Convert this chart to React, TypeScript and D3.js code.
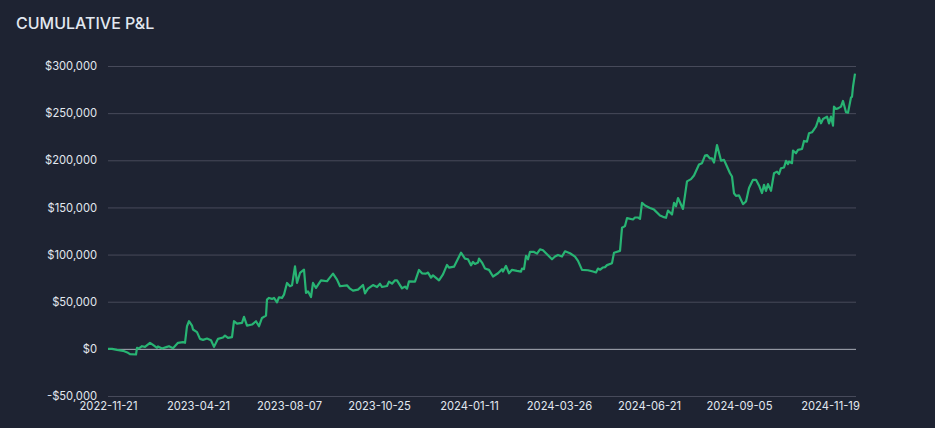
import * as d3 from 'd3';
import React, { useEffect, useRef } from 'react';

const tickDates = ['2022-11-21', '2023-04-21', '2023-08-07', '2023-10-25', '2024-01-11', '2024-03-26', '2024-06-21', '2024-09-05', '2024-11-19'];
const tickRows = [0, 90, 181, 271, 361, 451, 541, 631, 722];
const yTicks = [-50000, 0, 50000, 100000, 150000, 200000, 250000, 300000];

// trade row numbers, one per pnl value below
const rows = [
  0, 4, 9, 15, 20, 22, 28, 29, 31, 34, 37, 42, 45, 49, 50, 54, 59, 61, 65, 70, 75, 77, 79, 81, 84, 85, 89, 92, 95, 99, 103, 106, 110, 115,
  117, 120, 124, 126, 129, 134, 136, 139, 144, 148, 151, 154, 158, 159, 161, 164, 166, 169, 171, 174, 176, 179, 182, 184, 187, 189, 192, 196, 198, 200, 203, 205, 208, 213, 219, 221, 225, 229, 232, 239,
  242, 245, 250, 255, 257, 260, 265, 269, 272, 274, 279, 281, 284, 287, 289, 294, 297, 299, 301, 307, 311, 314, 318, 320, 323, 325, 331, 335, 339, 341, 346, 353, 357, 360, 363, 365,
  367, 370, 371, 374, 377, 381, 385, 390, 394, 395, 398, 401, 404, 409, 413, 414, 416, 418, 420, 422, 426, 429, 432, 435, 440, 444, 447, 450, 454, 457, 462, 467, 470, 474, 480, 485, 488, 490,
  492, 495, 497, 499, 504, 506, 512, 514, 517, 519, 525, 527, 530, 532, 534, 537, 542, 546, 552, 555, 558, 560, 564, 566, 568, 570, 575, 579, 583, 586, 591, 594, 597, 599, 602, 604, 606, 609, 613, 616, 619,
  622, 624, 626, 628, 631, 635, 638, 641, 645, 648, 651, 654, 656, 658, 660, 663, 666, 669, 671, 673, 676, 678, 680, 681, 684, 685, 688, 690, 694, 696, 699, 701, 704, 708, 711, 713, 715, 719, 721, 723, 725, 726, 728, 730, 733, 735, 738, 740, 743, 744, 745, 747,
];

const pnl = [
  0, 0, -1100, -2100, -4200, -5600, -6000, 1100, 400, 2800, 2100, 6400, 4200, 1100, 2500, 400, 2100, 2800, 700, 6400, 7100, 6400, 24000, 29300, 24700, 20500, 17700, 10600, 9500, 10900, 9200, 2100, 10600, 12000,
  14100, 11600, 12400, 29300, 26800, 27500, 33900, 24700, 25800, 29300, 24000, 32800, 35300, 52200, 54000, 53000, 54000, 49400, 54700, 54000, 57500, 69900, 66400, 67400, 87500, 69900, 80500, 84000, 59300, 61000, 55000, 69900, 64600, 72700, 71700, 74500, 79800, 73400, 66400, 67400,
  63800, 61700, 62800, 67700, 58900, 63800, 67700, 65600, 69100, 65600, 66700, 71300, 69100, 72700, 72700, 64200, 66000, 63800, 71600, 71300, 83700, 80100, 79800, 80900, 75500, 78000, 72700, 79000, 89000, 86200, 87200, 102000, 95700, 95000, 88600, 92200,
  90000, 91500, 95800, 91500, 85200, 83800, 76700, 80200, 84500, 82000, 88000, 80200, 83800, 82700, 82000, 85200, 84500, 98600, 95000, 103000, 102800, 101000, 105600, 104600, 99300, 95000, 97900, 99600, 97900, 103500, 101400, 97900, 93300, 83800, 83400, 82000, 81000, 85200,
  83900, 86300, 86700, 88800, 90900, 102000, 103900, 128400, 130200, 138600, 137200, 139300, 139300, 137900, 154800, 152000, 149500, 147700, 141400, 140000, 139000, 146700, 142500, 154800, 151200, 160000, 148400, 177600, 180000, 183900, 195500, 196900, 205000, 205600, 202000, 202000, 197600, 216200, 199700, 200400, 193400,
  186300, 182800, 165000, 162300, 162700, 153500, 156300, 170500, 179300, 179300, 173300, 165200, 174000, 167600, 174700, 167600, 186300, 188000, 185300, 191600, 192300, 199400, 195900, 198700, 196900, 210300, 207500, 211000, 212000, 220500, 219800, 228700, 229700, 235700, 245200, 239200, 243800, 246300, 239200, 246300, 236800, 256900, 254400, 255100, 256900, 262900, 250900, 250500, 266700, 267400, 278000, 292000,
];

const CumulativePnl = () => {
  const ref = useRef<SVGSVGElement | null>(null);

  useEffect(() => {
    if (!ref.current) return;
    const svg = d3.select(ref.current);
    svg.selectAll('*').remove();

    const x = d3.scaleLinear().domain([0, 748]).range([108, 856]);
    const y = d3.scaleLinear().domain([-50000, 300000]).range([396, 66]);
    const fmt = d3.format('$,.0f');

    svg.append('text')
      .attr('x', 16)
      .attr('y', 28.5)
      .attr('fill', '#e2e8f0')
      .style('font', '500 16px Inter')
      .text('CUMULATIVE P&L');

    // y axis carries the gridlines
    const yAxis = svg.append('g')
      .attr('transform', 'translate(108,0)')
      .call(d3.axisLeft(y).tickValues(yTicks).tickSize(-748).tickPadding(11).tickFormat((d) => {
        const v = +d;
        return v < 0 ? '-' + fmt(-v) : fmt(v);
      }));
    yAxis.select('.domain').remove();
    yAxis.selectAll('.tick line')
      .attr('stroke', (d) => (d === 0 ? '#a9adb8' : '#474a5a'))
      .attr('stroke-width', 1);
    yAxis.selectAll('text')
      .attr('fill', '#e2e8f0')
      .style('font', '400 11.2px Inter');

    const xAxis = svg.append('g')
      .attr('transform', 'translate(0,396)')
      .call(d3.axisBottom(x).tickValues(tickRows).tickSize(0).tickPadding(6.5).tickFormat((_, i) => tickDates[i]));
    xAxis.select('.domain').remove();
    xAxis.selectAll('text')
      .attr('fill', '#e2e8f0')
      .style('font', '400 11.2px Inter');

    const line = d3.line<number>()
      .x((_, i) => x(rows[i]))
      .y((d) => y(d));

    svg.append('path')
      .datum(pnl)
      .attr('d', line)
      .attr('fill', 'none')
      .attr('stroke', '#28b473')
      .attr('stroke-width', 2.2)
      .attr('stroke-linejoin', 'round');
  }, []);

  return (
    <svg
      ref={ref}
      width={935}
      height={428}
      style={{ position: 'absolute', left: 0, top: 0, background: '#1e2332' }}
    />
  );
};

export default function App() {
  return <CumulativePnl />;
}
